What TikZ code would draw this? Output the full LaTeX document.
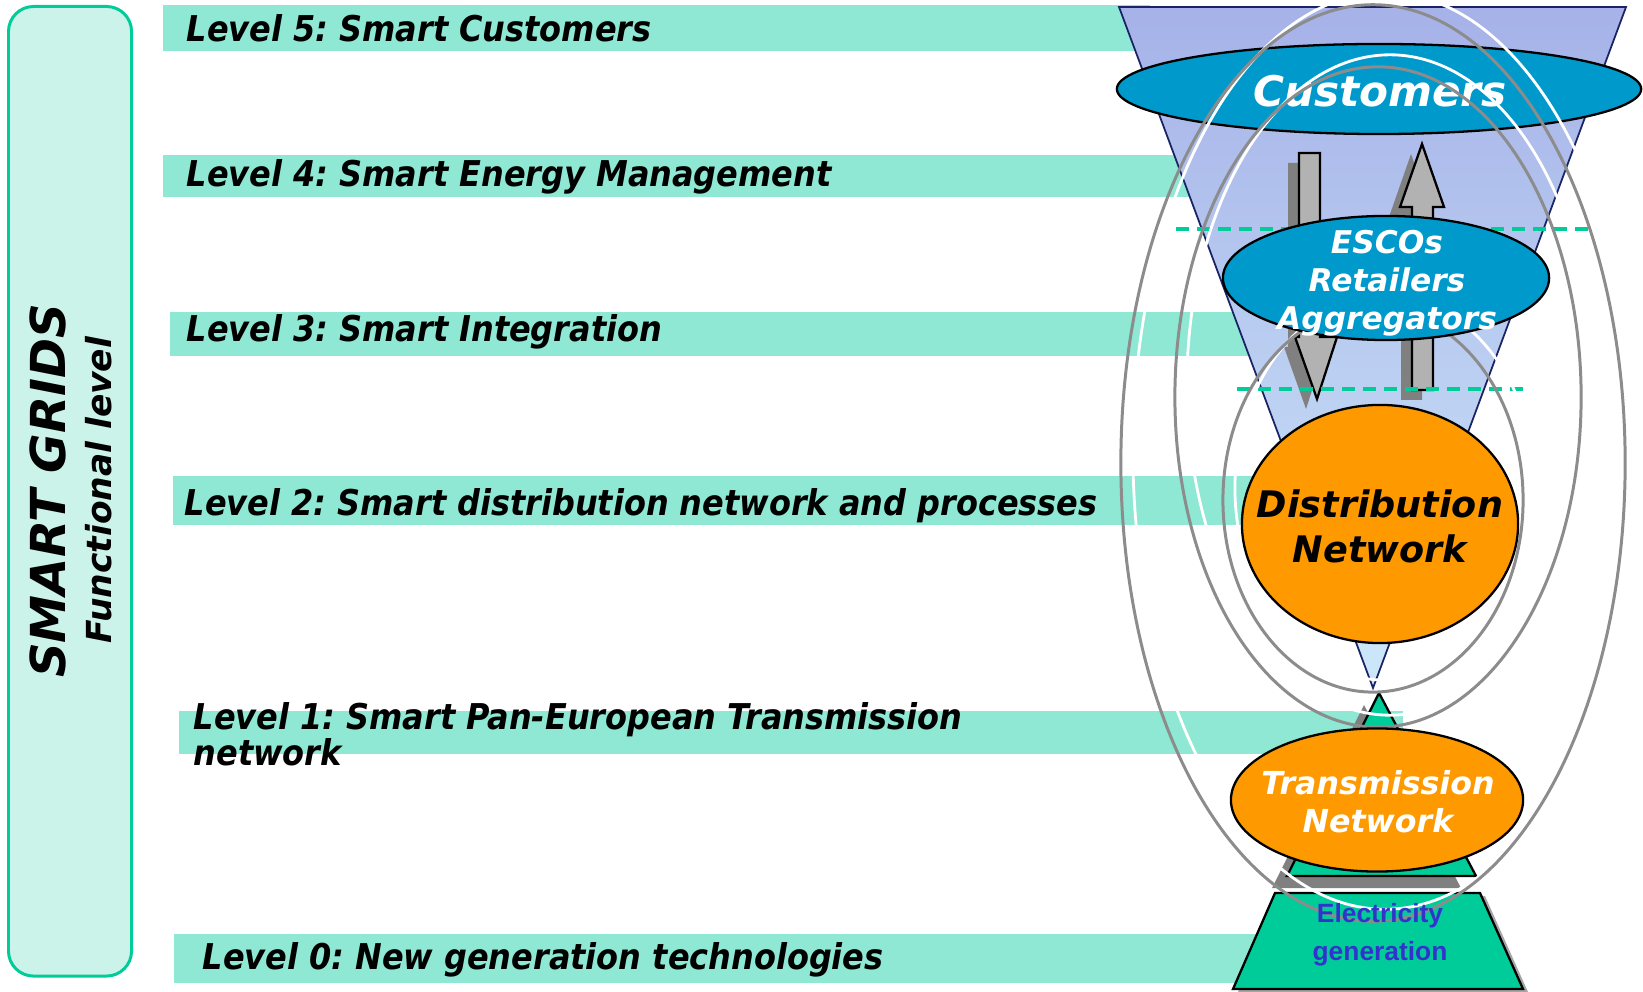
\documentclass[tikz,border=0pt]{standalone}
\usepackage{fontspec}
\setmainfont{DejaVu Sans}
\newfontfamily\condfont{DejaVu Sans Condensed Bold Oblique}
\newfontfamily\arialfont{Liberation Sans}
\usetikzlibrary{shapes.geometric,positioning}
\frenchspacing
\definecolor{panelfill}{RGB}{204,243,233}
\definecolor{tiergreen}{RGB}{0,204,153}
\definecolor{bandgreen}{RGB}{142,232,212}
\definecolor{funneltop}{RGB}{166,178,232}
\definecolor{funnelbot}{RGB}{205,232,250}
\definecolor{navy}{RGB}{26,35,100}
\definecolor{custblue}{RGB}{0,153,204}
\definecolor{netorange}{RGB}{255,153,0}
\definecolor{arrowgray}{RGB}{178,178,178}
\definecolor{shadowgray}{RGB}{128,128,128}
\definecolor{ringgray}{RGB}{140,140,140}
\definecolor{gentext}{RGB}{51,51,204}

\begin{document}
\begin{tikzpicture}[x=0.01cm,y=-0.01cm]
\tikzstyle{panel}=[draw=tiergreen, fill=panelfill, line width=0.85pt, rounded corners=0.25cm, anchor=north west, minimum width=1.23cm, minimum height=9.69cm]
\tikzstyle{band}=[fill=bandgreen, inner sep=0pt, anchor=north west]
\tikzstyle{lvl}=[font=\condfont\fontsize{10.1}{10.25}\selectfont, anchor=base west, inner sep=0pt, align=left]
\tikzstyle{blob}=[ellipse, draw=black, line width=0.65pt, inner sep=0pt]
\tikzstyle{tag}=[font=\bfseries\itshape, align=center, inner sep=0pt]
\tikzstyle{tier}=[fill=tiergreen, draw=black, line width=0.65pt]
\tikzstyle{block}=[fill=arrowgray, draw=black, line width=0.65pt]
\tikzstyle{blockshadow}=[fill=shadowgray]
\tikzstyle{cut}=[draw=tiergreen, line width=1pt, dash pattern=on 0.13cm off 0.08cm]
\tikzstyle{ring}=[draw=ringgray, line width=0.85pt]
\tikzstyle{glow}=[draw=white, line width=0.8pt]
\useasboundingbox (0,0) rectangle (1643,992);

% left panel
\node[panel] (panel) at (7,5) {};
\node[tag, rotate=90, font=\bfseries\itshape\fontsize{13.7}{16}\selectfont] (grids) at (48,491) {SMART GRIDS};
\node[tag, rotate=90, font=\bfseries\itshape\fontsize{9.8}{12}\selectfont] (func) at (99,490) {Functional level};

% level bands
\node[band, minimum width=9.87cm, minimum height=0.46cm] (b5) at (162,4) {};
\node[band, minimum width=10.38cm, minimum height=0.42cm] (b4) at (162,154) {};
\node[band, minimum width=10.91cm, minimum height=0.44cm] (b3) at (169,311) {};
\node[band, minimum width=10.88cm, minimum height=0.49cm] (b2) at (172,475) {};
\node[band, minimum width=12.24cm, minimum height=0.43cm] (b1) at (178,710) {};
\node[band, minimum width=10.92cm, minimum height=0.49cm] (b0) at (173,933) {};
\node[lvl] (l5) at (186,42) {Level 5: Smart Customers};
\node[lvl] (l4) at (186,187) {Level 4: Smart Energy Management};
\node[lvl] (l3) at (186,342) {Level 3: Smart Integration};
\node[lvl] (l2) at (184,516) {Level 2: Smart distribution network and processes};
\node[lvl, anchor=west] (l1) at (193,734) {Level 1: Smart Pan-European Transmission\\network};
\node[lvl] (l0) at (202,969) {Level 0: New generation technologies};

% funnel and pyramid
\shadedraw[top color=funneltop, bottom color=funnelbot, draw=navy, line width=0.5pt] (1119,7) -- (1626,7) -- (1373,688) -- cycle;
\fill[shadowgray] (1364,705) -- (1461,888) -- (1272,888) -- cycle;
\draw[tier] (1379,693) -- (1476,876) -- (1287,876) -- cycle;
\fill[shadowgray!70] (1280,896) -- (1485,896) -- (1528,992) -- (1238,992) -- cycle;
\draw[tier] (1275,893) -- (1480,893) -- (1523,989) -- (1233,989) -- cycle;

\node[blob, fill=custblue, minimum width=5.24cm, minimum height=0.90cm] (cust) at (1379,89) {};
\node[tag, text=white, font=\bfseries\itshape\fontsize{12}{14}\selectfont] (custtxt) at (1380,91) {Customers};

% block arrows
\begin{scope}[shift={(-11,10)}]
\fill[blockshadow] (1299,153) -- (1320,153) -- (1320,337) -- (1337,337) -- (1317,399) -- (1295,337) -- (1299,337) -- cycle;
\fill[blockshadow] (1422,144) -- (1444,207) -- (1433,207) -- (1433,390) -- (1412,390) -- (1412,207) -- (1400,207) -- cycle;
\end{scope}
\draw[block] (1299,153) -- (1320,153) -- (1320,337) -- (1337,337) -- (1317,399) -- (1295,337) -- (1299,337) -- cycle;
\draw[block] (1422,144) -- (1444,207) -- (1433,207) -- (1433,390) -- (1412,390) -- (1412,207) -- (1400,207) -- cycle;

\coordinate (c4a) at (1176,229);
\coordinate (c4b) at (1593,229);
\coordinate (c3a) at (1237,389);
\coordinate (c3b) at (1523,389);
\draw[cut] (c4a) -- (c4b);
\draw[cut] (c3a) -- (c3b);

% rings
\foreach \cx/\cy/\rx/\ry in {1373/463/2.52/4.58, 1378/397/2.03/3.30, 1373/500/1.50/1.92} {
  \draw[glow] (\cx+12,\cy-12) ellipse [x radius=\rx cm, y radius=\ry cm];
  \draw[ring] (\cx,\cy) ellipse [x radius=\rx cm, y radius=\ry cm];
}

\node[blob, fill=custblue, minimum width=3.26cm, minimum height=1.24cm] (esco) at (1386,278) {};
\node[tag, text=white, font=\bfseries\itshape\fontsize{8.9}{10.8}\selectfont] (escotxt) at (1387,283) {ESCOs\\Retailers\\Aggregators};
\node[blob, fill=netorange, minimum width=2.76cm, minimum height=2.38cm] (dist) at (1380,524) {};
\node[tag, font=\bfseries\itshape\fontsize{10.4}{12.8}\selectfont] (disttxt) at (1380,526) {Distribution\\Network};
\node[blob, fill=netorange, minimum width=2.92cm, minimum height=1.43cm] (trans) at (1377,800) {};
\node[tag, text=white, font=\bfseries\itshape\fontsize{9}{10.8}\selectfont] (transtxt) at (1378,802) {Transmission\\Network};
\node[align=center, inner sep=0pt, text=gentext, font=\arialfont\bfseries\fontsize{7.5}{10.8}\selectfont] (gen) at (1380,935) {Electricity\\generation};
\end{tikzpicture}
\end{document}
